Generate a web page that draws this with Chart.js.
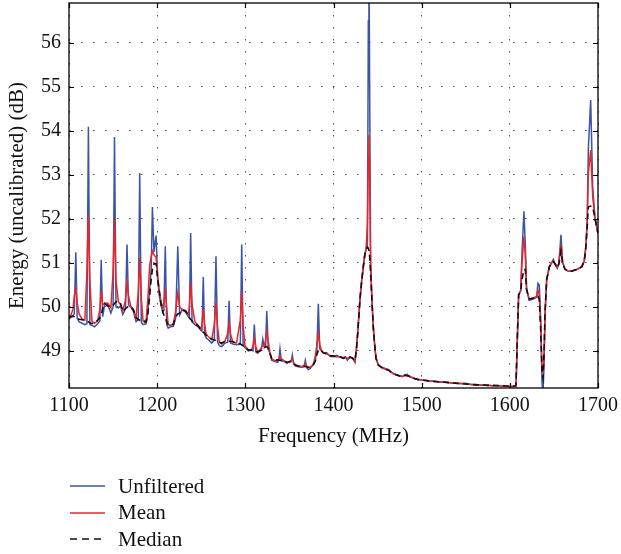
<!DOCTYPE html>
<html><head><meta charset="utf-8">
<script src="https://cdn.jsdelivr.net/npm/chart.js@4"></script>
<style>
html,body{margin:0;padding:0;background:#fff;}
#wrap{position:relative;width:621px;height:554px;}
canvas{display:block;}
#legend{position:absolute;left:70px;top:473px;font-family:"Liberation Serif",serif;font-size:21px;color:#111;}
.item{display:flex;align-items:center;height:26.5px;white-space:nowrap;}
.item svg{margin-right:13px;}
</style></head>
<body>
<div id="wrap"><canvas id="c" width="621" height="554"></canvas><div id="legend"></div></div>
<script>
// Frequency (MHz)
const freqMHz = [
 1100,1102,1104.5,1106,1107.7,1109.3,1111.5,1115,1118,1120.3,1122,1123.7,1126,1129,1132.5,1135,1136.5,1138.2,
 1140.5,1144,1147.5,1150,1151.6,1153.3,1156,1158.5,1161,1164,1165.8,1167.5,1170,1173,1176,1178.5,1180.2,1182,
 1184,1187.5,1189.5,1191.5,1193.3,1194.6,1196.4,1198.8,1200.6,1202.5,1204.5,1206.5,1207.6,1209.2,1210.8,1212.5,1215,1218.3,1221,1223.4,1225.5,
 1228.5,1232.3,1235.3,1236.5,1238,1239.6,1242.9,1246.7,1249.7,1250.8,1252.3,1253.8,1255.5,1258,1261.8,1264.8,1266.7,1268.5,1270.5,
 1273.2,1276.9,1280,1281.6,1283.2,1286,1290,1294.3,1295.9,1297.5,1299.6,1303.4,1307.2,1308.7,1310.2,1311.8,1314,1316.6,
 1318.3,1319.8,1321.5,1323,1324.3,1326,1327.8,1329.9,1333.6,1336.5,1338,1339.3,1340.8,1343,1347,1350.5,1352,1353.3,1354.8,1357,
 1360.1,1363.9,1366.5,1368,1369.5,1371.4,1373.5,1375.3,1377.5,1379.5,1381.2,1382.8,1384.4,1386.5,1388.5,1392.3,1396,1399.8,
 1403.6,1407.4,1411.1,1413.5,1415.6,1418.7,1421.5,1424.4,1426,1427.5,1430,1432,1433.8,1435.5,1437,1438.5,1439.5,1440.2,1441,1442.1,1443.5,1445.1,1446.8,
 1448.2,1450.8,1453.5,1456.5,1459.5,1462.1,1465,1467.8,1471,1475.4,1478.5,1481,1483.5,1486.7,1489.5,1492.4,1496,1500,1505,1509.4,1514,1520.7,
 1526,1532,1538,1544,1550,1556,1562,1568,1574,1580,1586,1592,1598,1603,1606,1607,
 1608.5,1610,1612.3,1613.8,1616,1617.6,1619,1622,1626.6,1630.4,1631.9,1633.4,1635,1636.5,1637.6,1638.8,1639.9,1641.8,1644.8,1647.4,
 1649.3,1651.2,1653.8,1655.4,1656.8,1658,1659.9,1662.5,1666.3,1670,1675.8,1681.5,1684.4,1686.3,1687.8,1689,1691.7,1694,1696.6,1699.6,1700
];
// Energy (dB), unfiltered
const unfiltered = [
 49.72,49.76,49.80,49.85,51.24,49.75,49.66,49.63,49.60,49.62,54.09,49.60,49.58,49.55,49.62,49.68,51.07,49.78,
 50.06,50.05,49.86,50.00,53.86,50.00,49.98,50.02,49.83,49.95,51.42,50.05,50.00,49.90,49.67,49.70,53.04,49.65,
 49.60,49.62,49.90,50.40,50.90,52.27,51.25,51.62,50.60,50.25,50.02,49.88,49.92,51.38,49.60,49.52,49.55,49.56,49.75,51.38,49.82,
 49.94,49.88,49.78,49.75,51.68,49.66,49.60,49.55,49.46,49.45,50.68,49.38,49.30,49.26,49.18,49.25,51.15,49.20,49.12,
 49.10,49.18,49.20,50.14,49.18,49.16,49.14,49.15,51.42,49.14,49.08,49.00,49.02,49.00,49.60,48.98,48.95,49.01,
 49.05,49.27,49.08,49.12,49.91,49.05,48.95,48.79,48.76,48.74,48.78,49.05,48.77,48.78,48.72,48.76,48.76,48.91,48.70,48.66,
 48.64,48.63,48.64,48.79,48.62,48.58,48.60,48.65,48.70,48.80,49.05,50.07,49.05,49.00,48.96,48.96,48.88,48.87,
 48.90,48.86,48.85,48.87,48.79,48.86,48.84,48.74,49.05,49.45,50.18,50.62,50.92,51.18,51.32,51.45,56.50,58.00,55.00,51.00,50.20,49.55,49.10,
 48.84,48.69,48.64,48.62,48.60,48.58,48.53,48.48,48.46,48.44,48.42,48.46,48.47,48.41,48.39,48.37,48.36,48.34,48.33,48.31,48.32,48.29,
 48.30,48.28,48.27,48.26,48.27,48.24,48.24,48.22,48.23,48.21,48.22,48.20,48.20,48.19,48.20,48.19,
 49.20,50.28,50.38,51.23,52.17,51.38,50.40,50.15,50.18,50.22,50.54,50.50,49.72,48.28,48.05,48.65,49.80,50.62,50.91,51.00,
 51.08,50.98,50.88,50.98,51.30,51.64,51.02,50.86,50.81,50.81,50.85,50.91,51.04,51.38,52.00,53.56,54.70,52.73,52.01,51.71,51.68
];
// Energy (dB), mean filtered
const meanFiltered = [
 49.78,49.80,49.95,50.25,50.42,50.10,49.84,49.72,49.70,50.80,52.09,50.60,49.68,49.63,49.68,49.95,50.36,50.05,
 50.08,50.09,49.98,50.80,51.99,50.60,50.12,50.05,49.92,50.15,50.55,50.25,50.02,49.94,49.75,50.30,51.11,50.20,
 49.68,49.70,50.20,50.95,51.15,51.27,51.18,51.12,50.70,50.35,50.10,49.98,50.10,50.36,50.00,49.60,49.58,49.62,49.90,50.32,50.00,
 49.94,49.92,49.82,50.00,50.55,50.05,49.66,49.58,49.50,49.60,49.95,49.62,49.38,49.33,49.26,49.60,50.10,49.55,49.20,
 49.16,49.22,49.40,49.64,49.38,49.20,49.18,49.70,50.33,49.60,49.12,49.03,49.03,49.12,49.29,49.10,48.98,49.02,
 49.08,49.14,49.12,49.25,49.44,49.22,48.98,48.82,48.78,48.78,48.82,48.89,48.83,48.79,48.74,48.76,48.79,48.82,48.74,48.68,
 48.66,48.65,48.67,48.72,48.66,48.62,48.63,48.66,48.72,48.90,49.15,49.40,49.15,49.00,48.96,48.94,48.89,48.88,
 48.87,48.87,48.84,48.86,48.83,48.86,48.84,48.77,49.05,49.42,50.16,50.60,50.91,51.20,51.32,51.90,53.40,53.90,53.00,51.00,50.20,49.56,49.12,
 48.84,48.68,48.65,48.60,48.58,48.57,48.53,48.49,48.46,48.43,48.42,48.45,48.44,48.42,48.40,48.37,48.35,48.34,48.33,48.32,48.31,48.30,
 48.29,48.28,48.27,48.26,48.25,48.24,48.23,48.23,48.22,48.21,48.21,48.20,48.20,48.20,48.20,48.22,
 49.30,50.28,50.36,51.00,51.60,51.15,50.40,50.18,50.20,50.24,50.38,50.28,49.60,48.65,48.50,48.85,49.86,50.62,50.91,51.00,
 51.04,50.98,50.89,50.98,51.20,51.42,51.00,50.86,50.81,50.81,50.85,50.91,51.04,51.38,51.95,53.03,53.56,52.50,52.01,51.71,51.68
];
// Energy (dB), median filtered
const medianFiltered = [
 49.76,49.78,49.79,49.78,49.76,49.74,49.72,49.71,49.70,49.68,49.66,49.64,49.62,49.64,49.70,49.75,49.82,49.96,
 50.08,50.02,50.00,50.04,50.08,50.12,50.13,50.08,49.90,49.96,49.99,50.02,50.00,49.94,49.76,49.72,49.70,49.67,
 49.66,49.66,49.85,50.25,50.65,50.85,50.98,50.98,50.62,50.35,50.05,49.88,49.82,49.76,49.66,49.60,49.58,49.60,49.78,49.84,49.86,
 49.94,49.90,49.80,49.76,49.72,49.68,49.64,49.56,49.48,49.45,49.42,49.40,49.36,49.33,49.27,49.25,49.24,49.22,49.20,
 49.18,49.22,49.22,49.22,49.22,49.21,49.19,49.16,49.14,49.12,49.10,49.02,49.02,49.01,49.00,48.99,48.98,49.00,
 49.02,49.05,49.08,49.09,49.10,49.06,48.95,48.83,48.79,48.80,48.79,48.79,48.79,48.79,48.74,48.76,48.75,48.74,48.71,48.68,
 48.66,48.66,48.66,48.65,48.64,48.63,48.64,48.66,48.70,48.78,48.92,49.02,49.04,49.00,48.96,48.93,48.89,48.89,
 48.87,48.87,48.83,48.85,48.84,48.86,48.84,48.78,49.05,49.40,50.16,50.58,50.91,51.18,51.29,51.36,51.33,51.28,51.15,50.76,50.18,49.55,49.12,
 48.83,48.68,48.64,48.60,48.58,48.57,48.52,48.49,48.46,48.43,48.42,48.45,48.44,48.43,48.40,48.37,48.35,48.34,48.33,48.32,48.31,48.30,
 48.29,48.28,48.27,48.26,48.25,48.24,48.23,48.23,48.22,48.22,48.21,48.21,48.20,48.20,48.21,48.23,
 49.33,50.28,50.36,50.62,50.85,50.85,50.39,50.18,50.20,50.24,50.24,50.17,49.48,48.50,48.39,48.95,49.86,50.62,50.91,51.00,
 51.03,50.98,50.89,50.96,51.10,51.27,50.98,50.86,50.81,50.81,50.85,50.91,51.04,51.38,51.83,52.27,52.29,52.27,52.01,51.71,51.68
];
const seriesNames = ["Unfiltered", "Mean", "Median"];
const xTickValues = [1100, 1200, 1300, 1400, 1500, 1600, 1700];
const yTickValues = [49, 50, 51, 52, 53, 54, 55, 56];

const FONT = '"Liberation Serif", "Times New Roman", serif';
const pts = arr => freqMHz.map((f, i) => ({x: f, y: arr[i]}));

const styles = [
  {color: '#3a55a8', width: 1.5, dash: [], order: 3},
  {color: '#ee2424', width: 1.5, dash: [], order: 2},
  {color: '#111111', width: 1.6, dash: [6, 4], order: 1}
];
const values = [unfiltered, meanFiltered, medianFiltered];

const frame = {
  id: 'frame',
  afterDraw(chart) {
    const {ctx, chartArea: a, scales: {x, y}} = chart;
    ctx.save();
    ctx.strokeStyle = '#000';
    ctx.lineWidth = 1.3;
    ctx.strokeRect(a.left, a.top, a.right - a.left, a.bottom - a.top);
    ctx.lineWidth = 1.2;
    const L = 5;
    ctx.beginPath();
    xTickValues.forEach(v => {
      const px = Math.round(x.getPixelForValue(v)) + 0.5;
      ctx.moveTo(px, a.bottom); ctx.lineTo(px, a.bottom - L);
      ctx.moveTo(px, a.top); ctx.lineTo(px, a.top + L);
    });
    yTickValues.forEach(v => {
      const py = Math.round(y.getPixelForValue(v)) + 0.5;
      ctx.moveTo(a.left, py); ctx.lineTo(a.left + L, py);
      ctx.moveTo(a.right, py); ctx.lineTo(a.right - L, py);
    });
    ctx.stroke();
    ctx.restore();
  }
};

new Chart(document.getElementById('c'), {
  type: 'line',
  data: {
    datasets: seriesNames.map((name, i) => ({
      label: name,
      data: pts(values[i]),
      borderColor: styles[i].color,
      borderWidth: styles[i].width,
      borderDash: styles[i].dash,
      order: styles[i].order,
      pointRadius: 0,
      tension: 0,
      fill: false
    }))
  },
  options: {
    responsive: false,
    animation: false,
    events: [],
    layout: {padding: {left: 0, right: 23, top: 3, bottom: 105}},
    plugins: {legend: {display: false}, tooltip: {enabled: false}},
    scales: {
      x: {
        type: 'linear', min: 1100, max: 1700,
        afterBuildTicks: s => { s.ticks = xTickValues.map(v => ({value: v})); },
        afterFit: s => { s.height = 61; s.paddingLeft = 0; s.paddingRight = 0; },
        ticks: {color: '#111', font: {family: FONT, size: 20}, padding: 6, maxRotation: 0, callback: v => String(v)},
        grid: {color: '#555', lineWidth: 1, drawTicks: false},
        border: {display: false, dash: [1.5, 10.5]},
        title: {display: true, text: 'Frequency (MHz)', color: '#111', font: {family: FONT, size: 21}, padding: {top: 0, bottom: 0}}
      },
      y: {
        type: 'linear', min: 48.16, max: 56.9,
        afterBuildTicks: s => { s.ticks = yTickValues.map(v => ({value: v})); },
        afterFit: s => { s.width = 69; s.paddingTop = 0; s.paddingBottom = 0; },
        ticks: {color: '#111', font: {family: FONT, size: 20}, padding: 8, callback: v => String(v)},
        grid: {color: '#555', lineWidth: 1, drawTicks: false},
        border: {display: false, dash: [1.5, 10.5]},
        title: {display: true, text: 'Energy (uncalibrated) (dB)', color: '#111', font: {family: FONT, size: 21}, padding: {top: 5, bottom: 0}}
      }
    }
  },
  plugins: [frame]
});

// legend (real text)
const lg = document.getElementById('legend');
seriesNames.forEach((name, i) => {
  const d = document.createElement('div');
  d.className = 'item';
  const s = styles[i];
  d.innerHTML = '<svg width="35" height="6"><line x1="0" y1="3" x2="35" y2="3" stroke="' + s.color +
    '" stroke-width="' + s.width + '"' + (s.dash.length ? ' stroke-dasharray="7,5"' : '') + '/></svg><span></span>';
  d.querySelector('span').textContent = name;
  lg.appendChild(d);
});
</script>
</body></html>
